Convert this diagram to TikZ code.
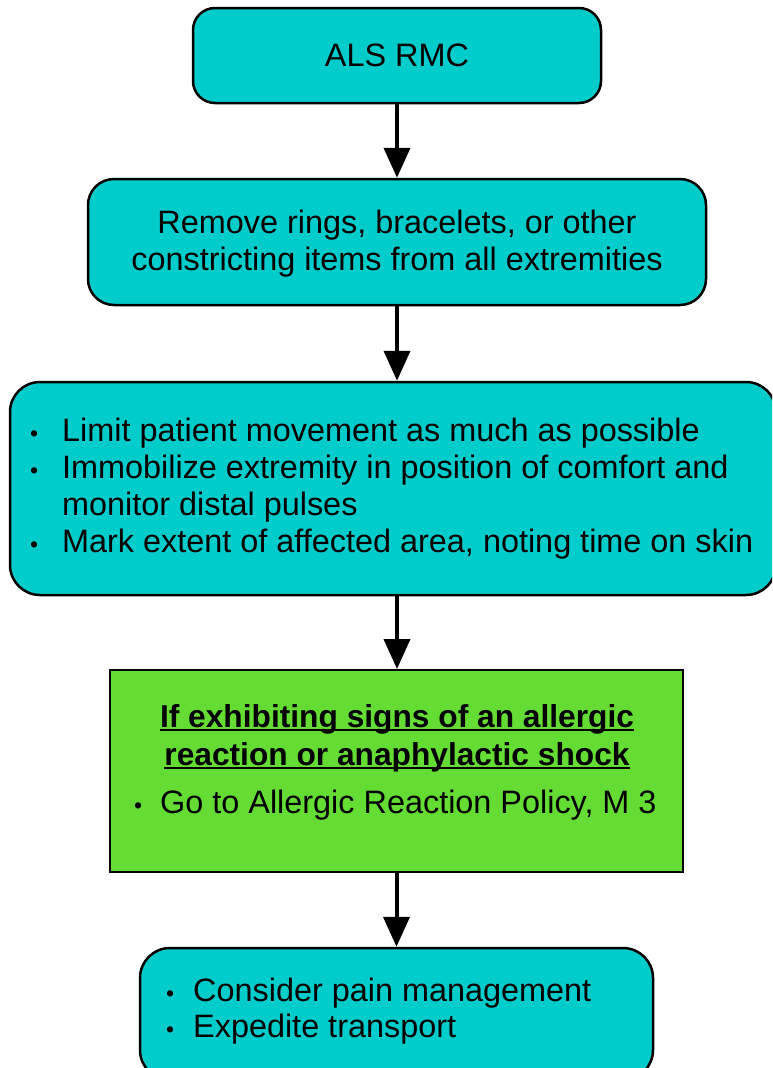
\documentclass[tikz,border=0pt]{standalone}
\usepackage{fontspec}
\setmainfont{Liberation Sans}
\usetikzlibrary{arrows.meta}
\definecolor{boxcyan}{RGB}{0,204,204}
\definecolor{boxgreen}{RGB}{100,220,52}
\newcommand{\bul}{{\fontsize{23}{23}\selectfont\textbullet}}
\newcommand{\myul}[1]{\setbox0\hbox{#1}\rlap{\rule[-3.5pt]{\wd0}{2pt}}\box0}
\begin{document}
\begin{tikzpicture}[x=1pt,y=-1pt,
  rbox/.style={draw=black, line width=2.5pt, fill=boxcyan, rounded corners=26pt, inner sep=0pt},
  gbox/.style={draw=black, line width=2pt, fill=boxgreen, inner sep=0pt},
  txt/.style={inner sep=0pt, font=\fontsize{32.4}{37}\selectfont},
  ttl/.style={inner sep=0pt, font=\fontsize{31.7}{37}\selectfont\bfseries},
  flow/.style={line width=4pt, -{Triangle[length=30pt,width=26pt]}}]
\useasboundingbox (0,0) rectangle (772,1068);
\clip (0,0) rectangle (772,1068);
% boxes
\node[rbox, rounded corners=22pt, minimum width=408pt, minimum height=95pt] (b1) at (397,55.5) {};
\node[rbox, minimum width=618pt, minimum height=126pt] (b2) at (397,242) {};
\node[rbox, rounded corners=30pt, minimum width=766pt, minimum height=213pt] (b3) at (393,488.5) {};
\node[gbox, minimum width=573pt, minimum height=202pt] (b4) at (396.5,771) {};
\node[rbox, rounded corners=30pt, minimum width=513pt, minimum height=132pt] (b5) at (396.5,1014) {};
% texts
\node[txt, anchor=base] (l1) at (397,66.5) {ALS RMC};
\node[txt, anchor=base] (l2) at (397,233.5) {Remove rings, bracelets, or other};
\node[txt, anchor=base] (l3) at (397,270.5) {constricting items from all extremities};
\node[txt, anchor=base west] (l4) at (30,441) {\makebox[32pt][l]{\bul}Limit patient movement as much as possible};
\node[txt, anchor=base west] (l5) at (30,478) {\makebox[32pt][l]{\bul}Immobilize extremity in position of comfort and};
\node[txt, anchor=base west] (l6) at (62,515) {monitor distal pulses};
\node[txt, anchor=base west] (l7) at (30,552) {\makebox[32pt][l]{\bul}Mark extent of affected area, noting time on skin};
\node[ttl, anchor=base] (l8) at (397,727) {\myul{If exhibiting signs of an allergic}};
\node[ttl, anchor=base] (l9) at (397,765) {\myul{reaction or anaphylactic shock}};
\node[txt, anchor=base west] (l10) at (134,813) {\makebox[26pt][l]{\bul}Go to Allergic Reaction Policy, M 3};
\node[txt, anchor=base west] (l11) at (166,1001) {\makebox[27pt][l]{\bul}Consider pain management};
\node[txt, anchor=base west] (l12) at (166,1037) {\makebox[27pt][l]{\bul}Expedite transport};
% connectors
\draw[flow] (b1.south) -- (b2.north);
\draw[flow] (b2.south) -- (b2.south |- b3.north);
\draw[flow] (b2.south |- b3.south) -- (b2.south |- b4.north);
\draw[flow] (b4.south) -- (b5.north);
\end{tikzpicture}
\end{document}
